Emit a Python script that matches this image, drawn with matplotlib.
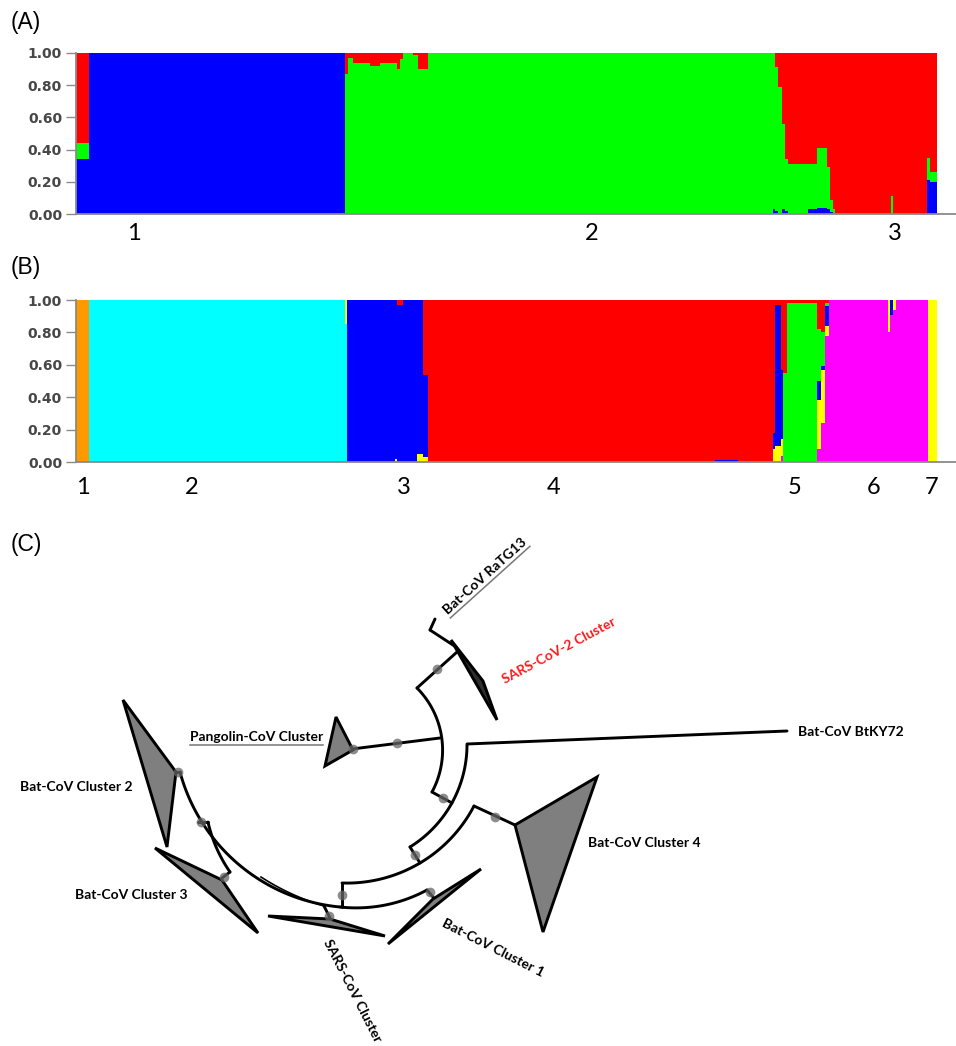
import numpy as np
import matplotlib
matplotlib.use("Agg")
import matplotlib.pyplot as plt
from matplotlib.patches import Polygon

W, H = 956, 1046

# ---------------- Panel A data (blocks of individuals) ----------------
A_counts = [13, 256, 3, 5, 17, 10, 17, 3, 3, 10, 5, 10, 345,
            2, 3, 4, 3, 3, 20, 9, 10, 3, 3, 2, 56, 2, 34, 3, 7]
A_blue = [.34, 1, 0, 0, 0, 0, 0, 0, 0, 0, 0, 0, 0,
          .03, .02, 0, .03, .02, 0, .03, .04, .03, .01, 0, 0, 0, 0, .21, .20]
A_green = [.10, 0, .87, .97, .94, .92, .94, .90, .965, 1, .99, .90, 1,
           .97, .89, .79, .53, .32, .31, .28, .37, .26, .08, .03, 0, .11, 0, .14, .06]
A_red = [.56, 0, .13, .03, .06, .08, .06, .10, .035, 0, .01, .10, 0,
         0, .09, .21, .44, .66, .69, .69, .59, .71, .91, .97, 1, .89, 1, .65, .74]
A_group_labels = ["1", "2", "3"]
A_group_pos = [134, 592, 895]

# ---------------- Panel B data ----------------
B_counts = [13, 256, 2, 48, 2, 6, 14, 6, 5, 287, 23, 35,
            2, 6, 2, 4, 30, 4, 4, 4, 59, 2, 3, 3, 32, 9]
B_orange = [1, 0, 0, 0, 0, 0, 0, 0, 0, 0, 0, 0,
            0, 0, 0, 0, 0, 0, 0, 0, 0, 0, 0, 0, 0, 0]
B_cyan = [0, 1, .85, 0, 0, 0, 0, 0, 0, 0, 0, 0,
          0, 0, 0, 0, 0, 0, 0, 0, 0, 0, 0, 0, 0, 0]
B_magenta = [0, 0, 0, 0, 0, 0, 0, 0, 0, 0, 0, 0,
             0, 0, .04, 0, 0, .08, .24, .78, 1, .80, .91, .94, 1, 0]
B_yellow = [0, 0, .15, 0, .02, 0, 0, .05, .03, 0, 0, 0,
            .08, .10, .10, 0, 0, .30, .33, .06, 0, .20, 0, .06, 0, 1]
B_blue = [0, 0, 0, 1, .98, .97, 1, .95, .51, 0, .015, 0,
          .10, .87, .43, 0, 0, .12, .02, .12, 0, 0, .09, 0, 0, 0]
B_green = [0, 0, 0, 0, 0, 0, 0, 0, 0, 0, 0, 0,
           0, 0, 0, .55, .98, .32, .21, .02, 0, 0, 0, 0, 0, 0]
B_red = [0, 0, 0, 0, 0, .03, 0, 0, .46, 1, .985, 1,
         .82, .03, .43, .45, .02, .18, .20, .02, 0, 0, 0, 0, 0, 0]
B_group_labels = ["1", "2", "3", "4", "5", "6", "7"]
B_group_pos = [83, 192, 404, 554, 795, 874, 932]

yticks = [0, 0.2, 0.4, 0.6, 0.8, 1.0]
ytick_labels = ["0.00", "0.20", "0.40", "0.60", "0.80", "1.00"]

# ---------------- Panel C: schematic tree (image pixel coords) ----------------
tree_arcs = [  # start, through, end
    [(417, 688), (442, 740), (432, 792)],
    [(467, 745), (455, 797), (410, 847)],
    [(474, 806), (420, 863), (342, 883)],
    [(180, 772), (237, 863), (340, 907)],
    [(340, 907), (390, 904), (427, 890)],
    [(208, 822), (217, 849), (230, 872)],
]
thin_arcs = [[(261, 877), (292, 894), (324, 906)]]
tree_lines = [
    [(435, 619), (430, 630)], [(430, 630), (456, 647)], [(457, 652), (417, 688)],
    [(440, 738), (352, 749)], [(432, 792), (452, 803)], [(467, 744), (787, 731)],
    [(410, 847), (420, 863)], [(474, 806), (515, 825)], [(342, 883), (342, 907)],
    [(427, 890), (433, 897)], [(198, 822), (208, 822)], [(230, 872), (222, 878)],
    [(175, 772), (180, 772)], [(324, 906), (330, 918)],
]
clades = {
    "SARS-CoV-2": [(451, 640), (483, 681), (497, 720)],
    "Pangolin": [(336, 717), (353, 750), (325, 766)],
    "Cluster 2": [(123, 700), (176, 772), (167, 847)],
    "Cluster 3": [(155, 848), (222, 880), (258, 933)],
    "Cluster 4": [(515, 825), (597, 777), (543, 932)],
    "Cluster 1": [(388, 944), (433, 899), (481, 869)],
    "SARS-CoV": [(268, 916), (330, 919), (385, 936)],
}
node_dots = [(437, 669), (397, 743), (353, 749), (443, 798), (415, 855), (495, 817),
             (342, 895), (329, 916), (224, 877), (201, 822), (178, 772), (430, 892)]
# label, x, y, rotation, ha, colour, underline
tree_labels = [
    ("Bat-CoV RaTG13", 445, 612, 42, "left", "black", True),
    ("SARS-CoV-2 Cluster", 503, 680, 28, "left", "#ff1a1a", False),
    ("Pangolin-CoV Cluster", 190, 737, 0, "left", "black", True),
    ("Bat-CoV BtKY72", 798, 732, 0, "left", "black", False),
    ("Bat-CoV Cluster 2", 20, 787, 0, "left", "black", False),
    ("Bat-CoV Cluster 3", 75, 895, 0, "left", "black", False),
    ("Bat-CoV Cluster 4", 588, 843, 0, "left", "black", False),
    ("Bat-CoV Cluster 1", 443, 922, -27, "left", "black", False),
    ("SARS-CoV Cluster", 327, 940, -63, "left", "black", False),
]
LABEL_SIZE = 10

# =====================================================================
fig = plt.figure(figsize=(W / 100, H / 100), dpi=100)


def fx(x):
    return x / W


def fy(y):
    return 1 - y / H


# tree axes (whole figure in pixel coordinates)
axt = fig.add_axes([0, 0, 1, 1])
axt.set_xlim(0, W)
axt.set_ylim(H, 0)
axt.axis("off")


def structure_axes(top_px, bot_px, counts, layers):
    ax = fig.add_axes([fx(76), fy(bot_px), fx(956 - 76), (bot_px - top_px) / H])
    counts = np.array(counts, dtype=float)
    lefts = np.concatenate([[0], np.cumsum(counts)[:-1]])
    bottom = np.zeros(len(counts))
    for vals, col in layers:
        vals = np.array(vals, dtype=float)
        ax.bar(lefts, vals, width=counts, bottom=bottom, align="edge",
               color=col, linewidth=0, antialiased=False)
        bottom += vals
    ax.set_xlim(0, 880)
    ax.set_ylim(0, 1)
    ax.set_yticks(yticks)
    ax.set_yticklabels(ytick_labels, fontsize=10, fontweight="bold",
                       color="#474747", family="DejaVu Sans")
    ax.set_xticks([])
    for s in ["top", "right"]:
        ax.spines[s].set_visible(False)
    for s in ["left", "bottom"]:
        ax.spines[s].set_color("#8a8a8a")
        ax.spines[s].set_linewidth(1.3)
    ax.tick_params(axis="y", length=7, width=1, color="#8a8a8a", pad=3)
    return ax


structure_axes(53, 214, A_counts,
               [(A_blue, "#0000ff"), (A_green, "#00ff00"), (A_red, "#ff0000")])
structure_axes(300, 462, B_counts,
               [(B_orange, "#ff9900"), (B_cyan, "#00ffff"), (B_magenta, "#ff00ff"),
                (B_yellow, "#ffff00"), (B_blue, "#0000ff"), (B_green, "#00ff00"),
                (B_red, "#ff0000")])

for lab, x in zip(A_group_labels, A_group_pos):
    fig.text(fx(x), fy(233), lab, fontsize=17, family="Lato", ha="center", va="center")
for lab, x in zip(B_group_labels, B_group_pos):
    fig.text(fx(x), fy(487), lab, fontsize=17, family="Lato", ha="center", va="center")

for lab, y in [("(A)", 23), ("(B)", 268), ("(C)", 545)]:
    fig.text(fx(11), fy(y), lab, fontsize=16.5, family="Liberation Sans",
             ha="left", va="center")


# ---------------- tree drawing ----------------
def arc_points(p0, pm, p1, n=80):
    (x1, y1), (x2, y2), (x3, y3) = p0, pm, p1
    d = 2 * (x1 * (y2 - y3) + x2 * (y3 - y1) + x3 * (y1 - y2))
    ux = ((x1**2 + y1**2) * (y2 - y3) + (x2**2 + y2**2) * (y3 - y1) + (x3**2 + y3**2) * (y1 - y2)) / d
    uy = ((x1**2 + y1**2) * (x3 - x2) + (x2**2 + y2**2) * (x1 - x3) + (x3**2 + y3**2) * (x2 - x1)) / d
    r = np.hypot(x1 - ux, y1 - uy)
    a0 = np.arctan2(y1 - uy, x1 - ux)
    am = np.arctan2(y2 - uy, x2 - ux)
    a1 = np.arctan2(y3 - uy, x3 - ux)
    tp = 2 * np.pi
    d1 = (a1 - a0) % tp
    dm = (am - a0) % tp
    if dm < d1:
        t = np.linspace(a0, a0 + d1, n)
    else:
        t = np.linspace(a0, a0 - (tp - d1), n)
    return ux + r * np.cos(t), uy + r * np.sin(t)


LW = 2.1
for arc in tree_arcs:
    xs, ys = arc_points(*arc)
    axt.plot(xs, ys, color="black", lw=LW, solid_capstyle="round", zorder=3)
for arc in thin_arcs:
    xs, ys = arc_points(*arc)
    axt.plot(xs, ys, color="black", lw=1.2, zorder=3)
for (p, q) in tree_lines:
    axt.plot([p[0], q[0]], [p[1], q[1]], color="black", lw=LW,
             solid_capstyle="round", zorder=3)
for name, verts in clades.items():
    fc = "#2e2e2e" if name == "SARS-CoV-2" else "#7f7f7f"
    axt.add_patch(Polygon(verts, closed=True, facecolor=fc, edgecolor="black",
                          lw=LW, joinstyle="miter", zorder=4))
dx, dy = zip(*node_dots)
axt.plot(dx, dy, "o", ms=7, color="#666666", alpha=0.75, mec="none", zorder=5)

renderer = fig.canvas.get_renderer()
for (s, x, y, rot, ha, col, ul) in tree_labels:
    axt.text(x, y, s, fontsize=LABEL_SIZE, fontweight="bold", family="Lato", color=col,
             rotation=rot, rotation_mode="anchor", ha=ha, va="center", zorder=6)
    if ul:
        tmp = axt.text(0, 0, s, fontsize=LABEL_SIZE, fontweight="bold", family="Lato")
        L = tmp.get_window_extent(renderer=renderer).width
        tmp.remove()
        th = np.deg2rad(rot)
        d = np.array([np.cos(th), -np.sin(th)])
        nrm = np.array([np.sin(th), np.cos(th)])
        p0 = np.array([x, y]) + nrm * 8
        p1 = p0 + d * L
        axt.plot([p0[0], p1[0]], [p0[1], p1[1]], color="#777777", lw=1.1, zorder=6)

fig.savefig("out.png", dpi=100)
